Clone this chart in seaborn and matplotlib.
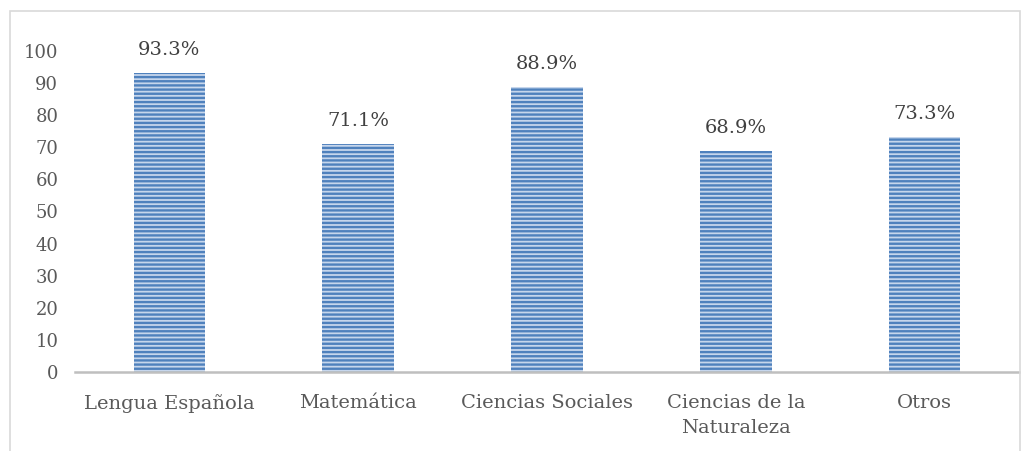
import matplotlib
matplotlib.use('Agg')
import matplotlib.pyplot as plt
import seaborn as sns
from matplotlib.patches import Rectangle

# Datos del gráfico
materias = ['Lengua Española', 'Matemática', 'Ciencias Sociales',
            'Ciencias de la\nNaturaleza', 'Otros']
porcentajes = [93.3, 71.1, 88.9, 68.9, 73.3]
etiquetas = ['93.3%', '71.1%', '88.9%', '68.9%', '73.3%']

sns.set_style('white')
plt.rcParams['font.family'] = ['DejaVu Serif']
plt.rcParams['hatch.linewidth'] = 1.7
plt.rcParams['hatch.color'] = '#4f81bd'

fig = plt.figure(figsize=(10.26, 4.51), dpi=100)
ax = fig.add_axes([75 / 1026, 1 - 372 / 451, 944 / 1026, 321 / 451])

sns.barplot(x=materias, y=porcentajes, color='#c6d6ec', width=0.38,
            saturation=1, ax=ax)

for barra in ax.patches:
    barra.set_hatch('----')
    barra.set_edgecolor('#4f81bd')
    barra.set_linewidth(0)

for i, (v, t) in enumerate(zip(porcentajes, etiquetas)):
    ax.annotate(t, (i, v), xytext=(0, 10), textcoords='offset points',
                ha='center', va='bottom', fontsize=14, color='#404040')

ax.set_ylim(0, 100)
ax.set_xlim(-0.5, len(materias) - 0.5)
ax.set_yticks(range(0, 101, 10))
ax.tick_params(axis='x', length=0, labelsize=14, colors='#595959', pad=16)
ax.tick_params(axis='y', length=0, labelsize=13, colors='#595959', pad=12)
for lbl in ax.get_xticklabels():
    lbl.set_linespacing(1.45)
for lado in ['top', 'right', 'left']:
    ax.spines[lado].set_visible(False)
ax.spines['bottom'].set_color('#bfbfbf')
ax.spines['bottom'].set_linewidth(1.8)
ax.set_xlabel('')
ax.set_ylabel('')

# Borde del área del gráfico
fig.patches.append(Rectangle((10 / 1026, -0.05), 1010 / 1026, 1.05 - 11 / 451,
                             transform=fig.transFigure, fill=False,
                             edgecolor='#d9d9d9', linewidth=1.2))

fig.savefig('out.png', dpi=100)
